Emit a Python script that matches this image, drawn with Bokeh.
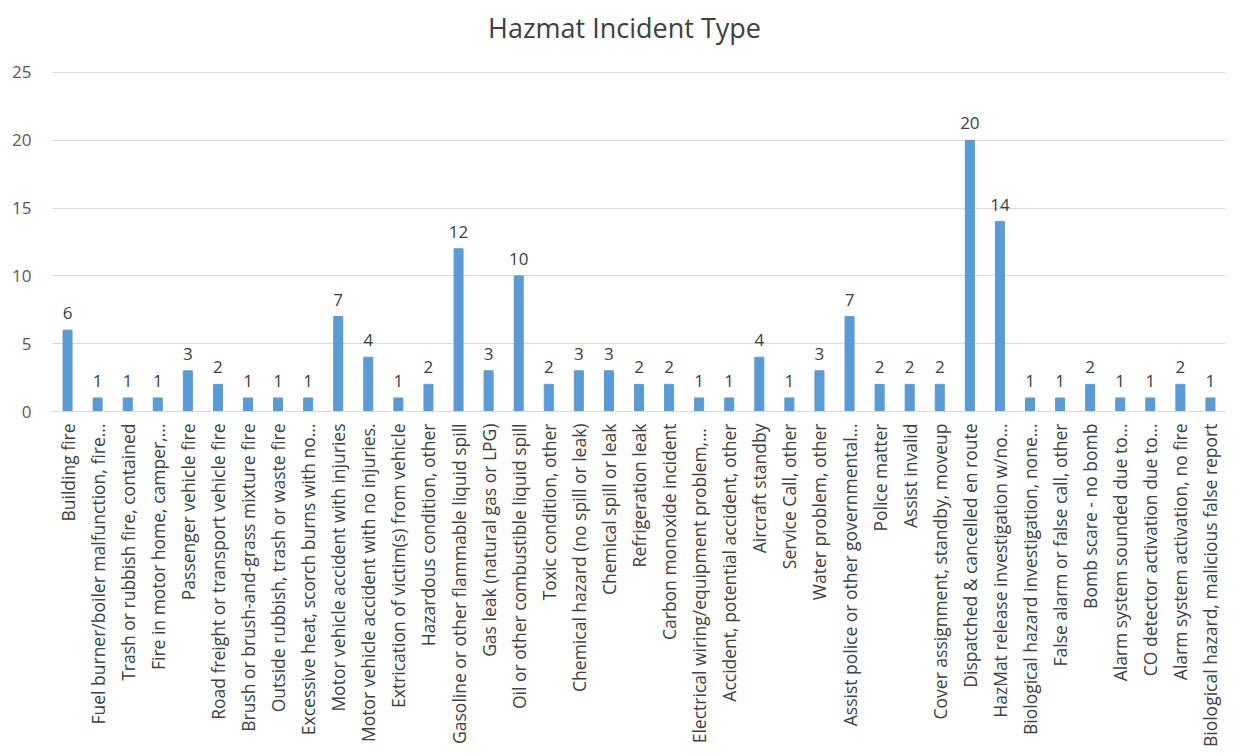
from bokeh.plotting import figure
from bokeh.models import ColumnDataSource, Range1d, FactorRange, LabelSet, Label
from bokeh.core.properties import value
from bokeh.embed import file_html
from bokeh.resources import INLINE
import math

title_text = "Hazmat Incident Type"
categories = [
    "Building fire",
    "Fuel burner/boiler malfunction, fire...",
    "Trash or rubbish fire, contained",
    "Fire in motor home, camper,...",
    "Passenger vehicle fire",
    "Road freight or transport vehicle fire",
    "Brush or brush-and-grass mixture fire",
    "Outside rubbish, trash or waste fire",
    "Excessive heat, scorch burns with no...",
    "Motor vehicle accident with injuries",
    "Motor vehicle accident with no injuries.",
    "Extrication of victim(s) from vehicle",
    "Hazardous condition, other",
    "Gasoline or other flammable liquid spill",
    "Gas leak (natural gas or LPG)",
    "Oil or other combustible liquid spill",
    "Toxic condition, other",
    "Chemical hazard (no spill or leak)",
    "Chemical spill or leak",
    "Refrigeration leak",
    "Carbon monoxide incident",
    "Electrical  wiring/equipment problem,...",
    "Accident, potential accident, other",
    "Aircraft standby",
    "Service Call, other",
    "Water problem, other",
    "Assist police or other governmental...",
    "Police matter",
    "Assist invalid",
    "Cover assignment, standby, moveup",
    "Dispatched & cancelled en route",
    "HazMat release investigation w/no...",
    "Biological hazard investigation, none...",
    "False alarm or false call, other",
    "Bomb scare - no bomb",
    "Alarm system sounded due to...",
    "CO detector activation due to...",
    "Alarm system activation, no fire",
    "Biological hazard, malicious false report",
]
counts = [6, 1, 1, 1, 3, 2, 1, 1, 1, 7, 4, 1, 2, 12, 3, 10, 2, 3, 3, 2, 2, 1, 1, 4, 1, 3, 7,
          2, 2, 2, 20, 14, 1, 1, 2, 1, 1, 2, 1]
y_ticks = [0, 5, 10, 15, 20, 25]

src = ColumnDataSource(dict(cat=categories, val=counts, lbl=[str(v) for v in counts]))

W, H = 1233, 750
# the frame extends above the top gridline so the title can sit inside it
p = figure(x_range=FactorRange(*categories, range_padding=0.0), y_range=Range1d(0, 29.94),
           width=W, height=H, output_backend="svg", toolbar_location=None,
           min_border_left=52, min_border_right=8,
           min_border_top=5, min_border_bottom=339)

p.vbar(x="cat", top="val", width=0.3, source=src, color="#5b9bd5", line_color="#5b9bd5")

labels = LabelSet(x="cat", y="val", text="lbl", source=src, y_offset=11,
                  text_align="center", text_baseline="bottom",
                  text_font=value("Open Sans"), text_font_size="17px", text_color="#404040")
p.add_layout(labels)

title = Label(x=572, y=384, x_units="screen", y_units="screen", text=title_text,
              text_align="center", text_baseline="middle", text_font="Open Sans",
              text_font_size="27px", text_color="#404040")
p.add_layout(title)

p.outline_line_color = None
p.xgrid.grid_line_color = None
p.ygrid.grid_line_color = "#d9d9d9"
p.ygrid.grid_line_width = 1

p.yaxis.ticker = y_ticks
p.yaxis.axis_line_color = None
p.yaxis.major_tick_line_color = None
p.yaxis.minor_tick_line_color = None
p.yaxis.major_label_text_font = "Open Sans"
p.yaxis.major_label_text_font_size = "17px"
p.yaxis.major_label_text_color = "#595959"
p.yaxis.major_label_standoff = 15

p.xaxis.axis_line_color = "#d9d9d9"
p.xaxis.major_tick_line_color = None
p.xaxis.minor_tick_line_color = None
p.xaxis.major_label_orientation = math.pi / 2
p.xaxis.major_label_text_font = "Open Sans"
p.xaxis.major_label_text_font_size = "17.5px"
p.xaxis.major_label_text_color = "#404040"
p.xaxis.major_label_standoff = 6

open("out.html", "w").write(file_html(p, INLINE))
